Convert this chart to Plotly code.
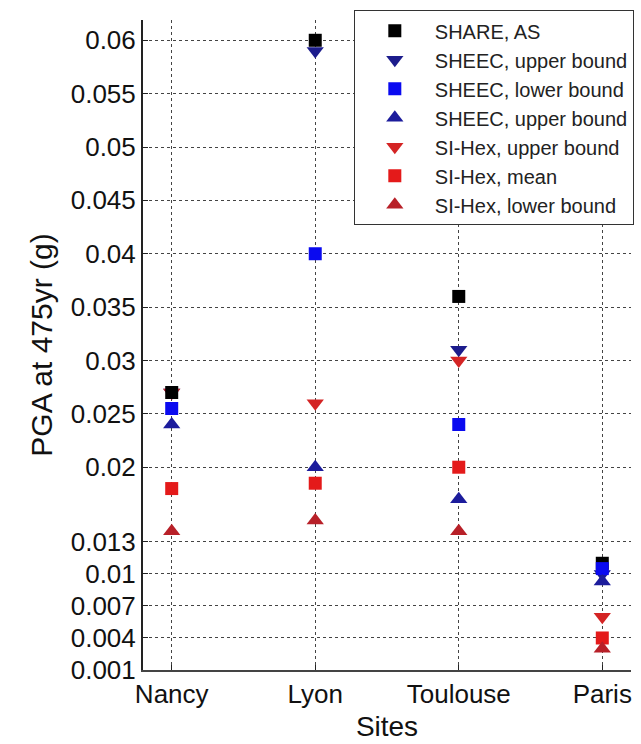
import plotly.graph_objects as go

sites = ["Nancy", "Lyon", "Toulouse", "Paris"]

share_as = [0.027, 0.060, 0.036, 0.011]
sheec_upper = [0.027, 0.059, 0.031, 0.0100]
sheec_lower = [0.0255, 0.040, 0.024, 0.0105]
sheec_upper2 = [0.024, 0.020, 0.017, 0.0093]
sihex_upper = [0.027, 0.026, 0.030, 0.006]
sihex_mean = [0.018, 0.0185, 0.020, 0.004]
sihex_lower = [0.014, 0.015, 0.014, 0.003]

y_ticks = [0.001, 0.004, 0.007, 0.01, 0.013, 0.02, 0.025, 0.03, 0.035,
           0.04, 0.045, 0.05, 0.055, 0.06]
y_tick_labels = ["0.001", "0.004", "0.007", "0.01", "0.013", "0.02", "0.025",
                 "0.03", "0.035", "0.04", "0.045", "0.05", "0.055", "0.06"]

# (legend label, values, symbol, colour, size, legend position)
series = [
    ("SHEEC, upper bound", sheec_upper, "triangle-down", "#1c1c8c", 15, 2),
    ("SI-Hex, upper bound", sihex_upper, "triangle-down", "#d42424", 15, 5),
    ("SHARE, AS", share_as, "square", "#000000", 13, 1),
    ("SHEEC, lower bound", sheec_lower, "square", "#0a0af0", 13, 3),
    ("SHEEC, upper bound", sheec_upper2, "triangle-up", "#1c1c9c", 15, 4),
    ("SI-Hex, mean", sihex_mean, "square", "#e41a1a", 13, 6),
    ("SI-Hex, lower bound", sihex_lower, "triangle-up", "#b82028", 15, 7),
]

fig = go.Figure()
for i, (name, vals, sym, col, size, rank) in enumerate(series):
    fig.add_trace(go.Scatter(
        x=sites, y=vals, mode="markers", name=name,
        legendrank=rank, legendgroup=f"g{i}",
        marker=dict(symbol=sym, color=col, size=size, line=dict(width=0)),
    ))

font_family = "Liberation Sans, Arial, sans-serif"

fig.update_layout(
    width=641, height=744,
    margin=dict(l=143, r=7, t=20, b=71),
    paper_bgcolor="white", plot_bgcolor="white",
    font=dict(family=font_family, color="#111111"),
    showlegend=True,
    legend=dict(
        x=0.432, y=1.015, xanchor="left", yanchor="top",
        bgcolor="white", bordercolor="#333333", borderwidth=1,
        font=dict(size=20, family=font_family, color="#222222"),
        itemwidth=70, tracegroupgap=0,
    ),
    xaxis=dict(
        type="category", categoryorder="array", categoryarray=sites,
        range=[-0.2, 3.2],
        showgrid=True, gridcolor="#444444", griddash="dot", gridwidth=1,
        showline=True, linecolor="#444444", linewidth=2,
        ticks="inside", ticklen=5, tickcolor="#222222",
        tickfont=dict(size=26), zeroline=False,
        title=dict(text="Sites", font=dict(size=28), standoff=8),
    ),
    yaxis=dict(
        range=[0.001, 0.0619],
        tickvals=y_ticks, ticktext=y_tick_labels,
        showgrid=True, gridcolor="#444444", griddash="dot", gridwidth=1,
        showline=True, linecolor="#222222", linewidth=2,
        ticks="inside", ticklen=5, tickcolor="#222222",
        tickfont=dict(size=26), zeroline=False,
        title=dict(text="PGA at 475yr (g)", font=dict(size=30), standoff=9),
    ),
)

fig.write_html("out.html")
